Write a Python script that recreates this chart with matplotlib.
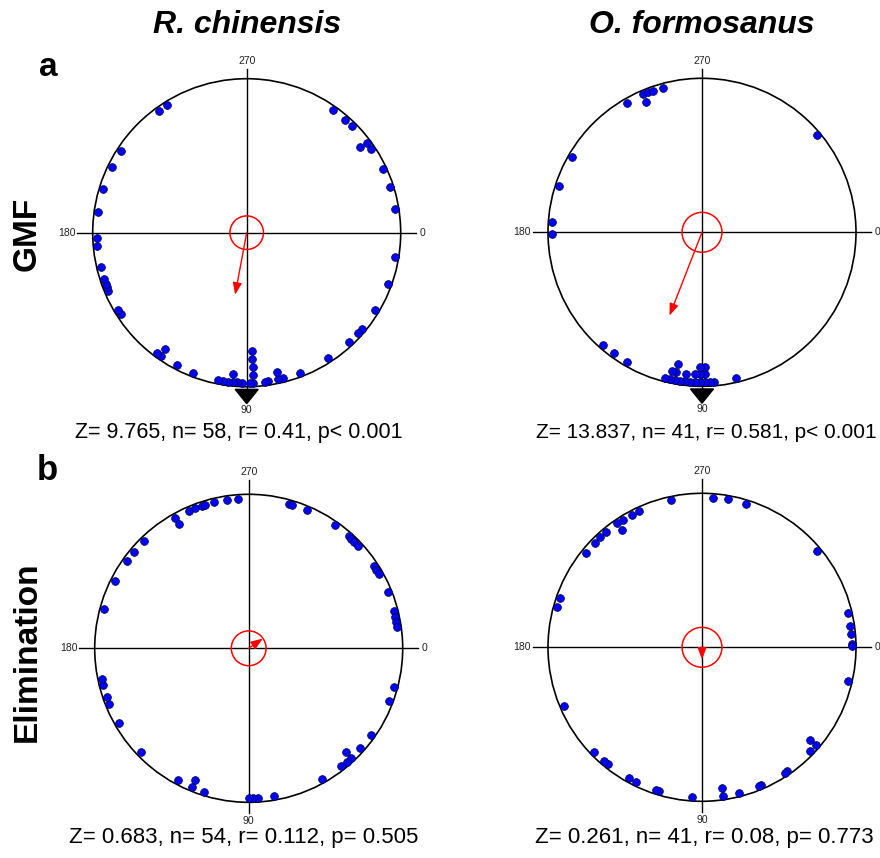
import numpy as np
import matplotlib.pyplot as plt
from matplotlib.patches import Circle, Polygon

# directions in degrees: 0 = right, 90 = bottom, clockwise (Oriana style)
# a repeated value means the dots are stacked inward
gmf_rc = [238.1, 234.0, 212.8, 206.1, 196.9, 188.0, 178.1, 175.0, 166.9,
          162.1, 160.2, 158.6, 157.2, 149.1, 147.2, 126.7, 125.0, 125.0,
          117.9, 110.9, 100.9, 99.0, 97.0, 95.4, 95.4, 93.8, 91.9, 88.7,
          87.5, 87.5, 87.5, 87.5, 87.5, 83.0, 81.7, 77.9, 77.9, 75.9,
          69.1, 57.0, 47.0, 42.0, 40.0, 31.0, 20.1, 9.2,
          350.9, 342.2, 335.0, 326.1, 323.1, 323.1, 314.4, 311.1, 305.2]

gmf_of = [254.8, 250.8, 249.0, 246.8, 246.8, 239.9, 210.0, 198.1, 184.1,
          179.2, 131.1, 126.1, 120.2,
          104.3, 102.3, 102.3, 100.4, 100.4, 100.4, 98.4, 96.5, 96.5,
          94.6, 92.7, 92.7, 90.8, 90.8, 90.8, 88.9, 88.9, 88.9, 87.0, 85.3,
          77.0, 319.8]

elim_rc = [265.8, 261.8, 256.8, 252.9, 251.8, 249.1, 246.7, 240.6, 240.6,
           225.6, 220.0, 215.8, 206.7, 195.0,
           168.1, 165.9, 161.0, 158.2, 150.1, 136.1, 118.2, 112.3, 112.3,
           107.2, 90.0, 88.2, 86.3, 80.1,
           60.9, 51.9, 49.2, 46.9, 46.9, 41.9, 35.1, 20.7, 15.1,
           352.0, 349.9, 347.8, 345.7, 338.0, 330.1, 328.4, 326.9, 316.9,
           314.8, 313.2, 311.8, 304.9, 292.9, 286.8, 285.6]

elim_of = [258.2, 274.1, 279.8, 287.2, 245.0, 242.2, 238.1, 235.7, 235.7,
           230.1, 227.1, 224.3, 219.1, 199.2, 195.4,
           157.1, 135.8, 130.9, 128.9, 119.3, 115.9, 107.9, 106.8,
           93.8, 81.8, 81.8, 75.7, 67.7, 66.7, 56.6, 55.7,
           43.8, 40.7, 40.7, 12.9, 359.4, 358.7, 355.0, 351.9, 346.9, 319.9]

# mean vector (angle, r) and sample size per panel
mean_angle = [100.6, 111.3, 325.4, 90.0]
mean_r = [0.41, 0.581, 0.112, 0.08]
n_obs = [58, 41, 54, 41]
expected = [90, 90, None, None]

stats = ["Z= 9.765, n= 58, r= 0.41, p< 0.001",
         "Z= 13.837, n= 41, r= 0.581, p< 0.001",
         "Z= 0.683, n= 54, r= 0.112, p= 0.505",
         "Z= 0.261, n= 41, r= 0.08, p= 0.773"]
species = ["R. chinensis", "O. formosanus"]
rows = ["GMF", "Elimination"]
letters = ["a", "b"]

W, H = 880, 858
R = 154
L = 1.35
centers = [(246.7, 232.7), (702, 232.3), (248.7, 648.3), (702, 647.3)]

plt.rcParams["font.family"] = ["Liberation Sans", "DejaVu Sans"]

fig = plt.figure(figsize=(W / 100, H / 100), dpi=100)


def xy(theta, rad):
    t = np.deg2rad(theta)
    return rad * np.cos(t), -rad * np.sin(t)


data = [gmf_rc, gmf_of, elim_rc, elim_of]
for i, (cx, cy) in enumerate(centers):
    ax = fig.add_axes([(cx - L * R) / W, (H - cy - L * R) / H,
                       2 * L * R / W, 2 * L * R / H])
    ax.set_xlim(-L, L)
    ax.set_ylim(-L, L)
    ax.axis("off")

    ax.add_patch(Circle((0, 0), 1, fill=False, ec="black", lw=1.2, zorder=2))
    top = 1.06 if i < 2 else 1.09
    ax.plot([-1.1, 1.1], [0, 0], color="black", lw=1, zorder=1)
    ax.plot([0, 0], [-1.07, top], color="black", lw=1, zorder=1)

    ax.text(1.12, 0, "0", ha="left", va="center", fontsize=7.5, color="#222222")
    ax.text(-1.11, 0, "180", ha="right", va="center", fontsize=7.5, color="#222222")
    ax.text(0, top + 0.02, "270", ha="center", va="bottom", fontsize=7.5, color="#222222")
    ax.text(0, -1.15 if expected[i] else -1.12, "90", ha="center", va="center",
            fontsize=7.5, color="#222222")

    # stacked dots
    vals, counts = np.unique(np.round(data[i], 1), return_counts=True)
    for a, c in zip(vals, counts):
        for k in range(c):
            px, py = xy(a, 0.974 - 0.0507 * k)
            ax.plot(px, py, "o", ms=5.6, mfc="#0000FF", mec="#000033",
                    mew=0.5, zorder=4, clip_on=False)

    # confidence circle and mean vector
    ax.add_patch(Circle((0, 0), 0.83 / np.sqrt(n_obs[i]), fill=False,
                        ec="#FF0000", lw=1.1, zorder=3))
    tx, ty = xy(mean_angle[i], mean_r[i])
    ax.annotate("", xy=(tx, ty), xytext=(0, 0),
                arrowprops=dict(arrowstyle="-|>,head_length=0.8,head_width=0.3",
                                color="#FF0000", lw=1, mutation_scale=9,
                                shrinkA=0, shrinkB=0), zorder=5)

    if expected[i] is not None:
        b1 = xy(expected[i] - 4.2, 1.02)
        b2 = xy(expected[i] + 4.2, 1.02)
        apex = xy(expected[i], 1.11)
        ax.add_patch(Polygon([b1, b2, apex], closed=True, color="black",
                             zorder=5, clip_on=False))

# texts
for j, sp in enumerate(species):
    fig.text(centers[j][0] / W, 1 - 25 / H, sp, ha="center", va="center",
             fontsize=23, fontweight="bold", fontstyle="italic")

fig.text(48 / W, 1 - 67 / H, letters[0], ha="center", va="center", fontsize=24, fontweight="bold")
fig.text(47 / W, 1 - 470 / H, letters[1], ha="center", va="center", fontsize=25, fontweight="bold")
fig.text(27 / W, 1 - 234 / H, rows[0], ha="center", va="center", rotation=90,
         fontsize=24, fontweight="bold")
fig.text(27 / W, 1 - 652 / H, rows[1], ha="center", va="center", rotation=90,
         fontsize=24, fontweight="bold")

fig.text(239 / W, 1 - 433 / H, stats[0], ha="center", va="center", fontsize=15.5)
fig.text(706 / W, 1 - 433 / H, stats[1], ha="center", va="center", fontsize=15)
fig.text(244 / W, 1 - 838 / H, stats[2], ha="center", va="center", fontsize=16)
fig.text(704 / W, 1 - 838 / H, stats[3], ha="center", va="center", fontsize=16)

fig.savefig("out.png", dpi=100)
